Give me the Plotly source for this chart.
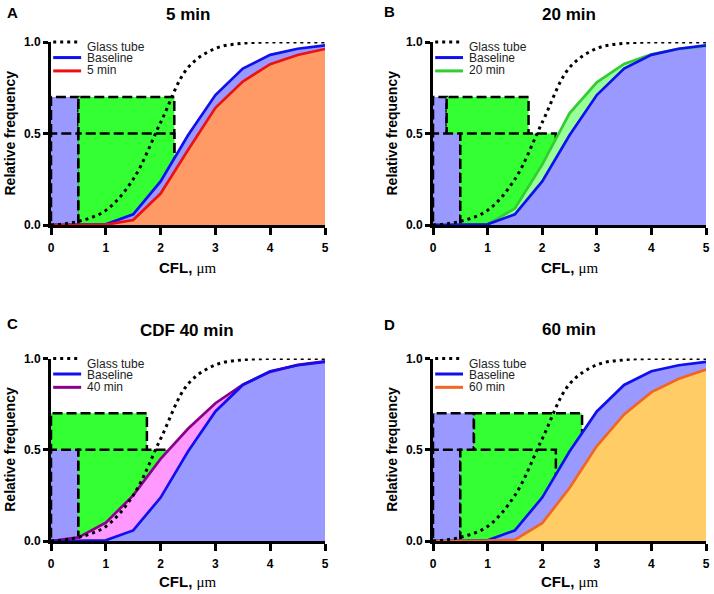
import plotly.graph_objects as go

# ---------------- data ----------------
cfl = [0, 0.5, 1, 1.5, 2, 2.5, 3, 3.5, 4, 4.5, 5]
glass_tube = [0, 0.02, 0.08, 0.25, 0.56, 0.86, 0.965, 0.993, 1.0, 1.0, 1.0]
baseline = [0, 0, 0.004, 0.058, 0.238, 0.49, 0.71, 0.855, 0.93, 0.963, 0.982]
min5 = [0, 0, 0.002, 0.027, 0.172, 0.41, 0.64, 0.784, 0.879, 0.929, 0.962]
min20 = [0, 0, 0.005, 0.09, 0.33, 0.61, 0.78, 0.88, 0.933, 0.962, 0.977]
min40 = [0, 0.02, 0.10, 0.25, 0.45, 0.615, 0.755, 0.857, 0.927, 0.965, 0.985]
min60 = [0, 0, 0.002, 0.007, 0.098, 0.29, 0.52, 0.694, 0.816, 0.889, 0.94]

panel_letters = ["A", "B", "C", "D"]
panel_titles = ["5 min", "20 min", "CDF 40 min", "60 min"]
treat_names = ["5 min", "20 min", "40 min", "60 min"]
treat_values = [min5, min20, min40, min60]
treat_line_colors = ["#EE1111", "#33CC33", "#8B008B", "#F26522"]
treat_fill_colors = ["#FF9966", "#99FF99", "#FF99FF", "#FFCC66"]
treat_under_baseline = [False, True, True, False]

# floating range boxes: (start, end) along CFL, upper row reaches 0.7, lower row 0.5
upper_box = [(0.5, 2.25), (0.25, 1.75), (0.0, 1.75), (0.75, 2.73)]
lower_box = [(0.5, 2.25), (0.5, 2.25), (0.5, 2.25), (0.5, 2.25)]
box_tops = [0.7, 0.5]

y_ticks = [0.0, 0.5, 1.0]
x_ticks = [0, 1, 2, 3, 4, 5]

BLUE_LINE = "#1010EE"
BLUE_FILL = "#9999FF"
GREEN_BOX = "#33FF33"
FONT = "Liberation Sans, Arial, sans-serif"

W, H = 714, 594
# plot-area pixel boxes [left, right, top, bottom]
px_boxes = [(51, 325, 42, 225), (433, 706, 42, 225), (51, 325, 358.5, 541), (433, 706, 358.5, 541)]

fig = go.Figure()
layout = dict(
    width=W, height=H, margin=dict(l=0, r=0, t=0, b=0, autoexpand=False),
    paper_bgcolor="white", plot_bgcolor="white", showlegend=False,
    font=dict(family=FONT, color="black"),
)
annotations = []
shapes = []
dash_box = "10px,4px"

for i in range(4):
    xa = "x" if i == 0 else f"x{i+1}"
    ya = "y" if i == 0 else f"y{i+1}"
    l, r, t, b = px_boxes[i]
    layout["xaxis" if i == 0 else f"xaxis{i+1}"] = dict(
        domain=[l / W, r / W], anchor=ya, range=[0, 5], tickvals=x_ticks,
        automargin=False, ticklabeloverflow="allow", ticklabelstandoff=3,
        showgrid=False, zeroline=False, showline=True, linecolor="black", linewidth=3,
        ticks="outside", ticklen=7, tickwidth=2.5, tickcolor="black",
        tickfont=dict(size=12, family=FONT, color="black", weight="bold"),
    )
    layout["yaxis" if i == 0 else f"yaxis{i+1}"] = dict(
        domain=[1 - b / H, 1 - t / H], anchor=xa, range=[0, 1], tickvals=y_ticks,
        tickformat=".1f", automargin=False, ticklabeloverflow="allow",
        showgrid=False, zeroline=False, showline=True, linecolor="black", linewidth=3,
        ticks="outside", ticklen=5, tickwidth=2.5, tickcolor="black",
        tickfont=dict(size=12, family=FONT, color="black", weight="bold"),
    )

    # range boxes (upper row then lower row), each: blue part then green part
    for (x0, x1), top in ((upper_box[i], box_tops[0]), (lower_box[i], box_tops[1])):
        for a, c, col in ((0, x0, BLUE_FILL), (x0, x1, GREEN_BOX)):
            if c - a <= 0:
                continue
            fig.add_trace(go.Scatter(
                x=[a, c, c, a, a], y=[0, 0, top, top, 0], xaxis=xa, yaxis=ya,
                mode="lines", fill="toself", fillcolor=col,
                line=dict(color="black", width=2.5, dash=dash_box), hoverinfo="skip"))

    tv = treat_values[i]
    fill_specs = [(baseline, BLUE_FILL), (tv, treat_fill_colors[i])]
    if treat_under_baseline[i]:
        fill_specs = fill_specs[::-1]
    for vals, col in fill_specs:
        fig.add_trace(go.Scatter(x=cfl, y=vals, xaxis=xa, yaxis=ya, mode="lines",
                                 fill="tozeroy", fillcolor=col, line=dict(width=0),
                                 hoverinfo="skip"))
    line_specs = [(baseline, BLUE_LINE, "Baseline"), (tv, treat_line_colors[i], treat_names[i])]
    if treat_under_baseline[i]:
        line_specs = line_specs[::-1]
    for vals, col, nm in line_specs:
        fig.add_trace(go.Scatter(x=cfl, y=vals, xaxis=xa, yaxis=ya, mode="lines",
                                 name=nm, line=dict(color=col, width=2.7)))
    fig.add_trace(go.Scatter(x=cfl, y=glass_tube, xaxis=xa, yaxis=ya, mode="lines",
                             name="Glass tube", line_shape="spline",
                             line=dict(color="black", width=3, dash="3px,4px")))

    # manual legend
    xd, yd = f"{xa} domain", f"{ya} domain"
    leg = [("Glass tube", "black", "3px,4px", 1.0, 0.972),
           ("Baseline", BLUE_LINE, "solid", 0.915, 0.911),
           (treat_names[i], treat_line_colors[i], "solid", 0.842, 0.845)]
    for txt, col, dsh, ly, ty in leg:
        shapes.append(dict(type="line", xref=xd, yref=yd, x0=0.008, x1=0.11, y0=ly, y1=ly,
                           line=dict(color=col, width=3, dash=dsh), layer="above"))
        annotations.append(dict(text=txt, xref=xd, yref=yd, x=0.125, y=ty, xanchor="left",
                                yanchor="middle", showarrow=False,
                                font=dict(size=12, family=FONT, color="#222222")))

    cx = (l + r) / 2
    # panel letter, title, axis titles
    letter_pos = [(12.5, 12), (390, 11.5), (12.5, 323), (390, 324)][i]
    title_pos = [(187.5, 14), (568.5, 14), (187, 330), (569, 329)][i]
    xt_y = [267, 267.5, 581, 581][i]
    annotations.append(dict(text=f"<b>{panel_letters[i]}</b>", xref="paper", yref="paper",
                            x=letter_pos[0] / W, y=1 - letter_pos[1] / H, xanchor="center",
                            yanchor="middle", showarrow=False, font=dict(size=15, family=FONT)))
    annotations.append(dict(text=f"<b>{panel_titles[i]}</b>", xref="paper", yref="paper",
                            x=title_pos[0] / W, y=1 - title_pos[1] / H, xanchor="center",
                            yanchor="middle", showarrow=False, font=dict(size=17, family=FONT)))
    annotations.append(dict(text="<b>Relative frequency</b>", xref="paper", yref="paper",
                            x=(l - 41) / W, y=1 - ((t + b) / 2) / H, textangle=-90,
                            xanchor="center", yanchor="middle", showarrow=False,
                            font=dict(size=14, family=FONT)))
    annotations.append(dict(text="<b>CFL, </b><span style='font-family:Liberation Serif'>\u03bcm</span>",
                            xref="paper", yref="paper",
                            x=cx / W, y=1 - xt_y / H, xanchor="center", yanchor="middle",
                            showarrow=False, font=dict(size=15, family=FONT)))

layout["annotations"] = annotations
layout["shapes"] = shapes
fig.update_layout(**layout)
fig.write_html("out.html", config={"displayModeBar": False},
               post_script="document.body.style.margin='0px';document.body.style.padding='0px';")
